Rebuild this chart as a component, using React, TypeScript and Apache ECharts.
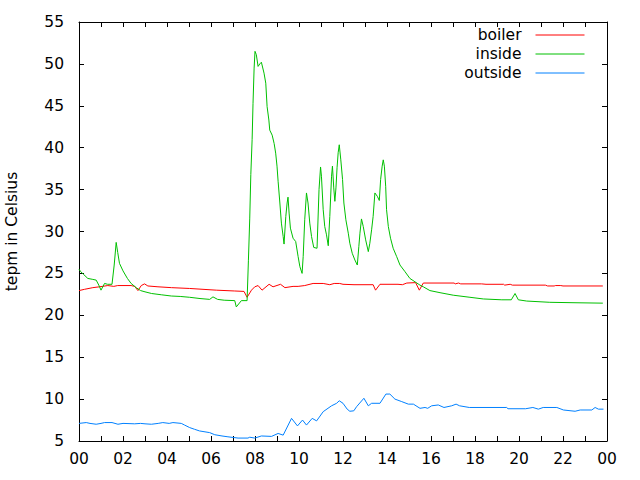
import { useEffect, useRef } from 'react';
import * as echarts from 'echarts';

const seriesNames = ['boiler', 'inside', 'outside'];
const xTickLabels = ['00', '02', '04', '06', '08', '10', '12', '14', '16', '18', '20', '22', '00'];

const boilerHours = [0, 0.25, 0.63, 0.93, 1.31, 1.58, 1.76, 2.37, 2.53, 2.68, 2.83, 2.98, 3.13, 3.59, 4.2, 5.03, 6.24, 7.08, 7.5, 7.64, 7.84, 7.99, 8.14, 8.32, 8.64, 8.82, 9.16, 9.36, 9.73, 9.96, 10.26, 10.64, 11.1, 11.4, 11.6, 11.85, 12.0, 12.5, 13.37, 13.48, 13.68, 14.5, 14.7, 14.9, 15.3, 15.47, 15.65, 17.05, 17.1, 17.25, 17.35, 18.3, 18.5, 19.3, 19.35, 19.6, 19.7, 21.2, 21.3, 21.6, 21.65, 21.9, 22.0, 23.81];
const boilerTemps = [22.95, 23.1, 23.3, 23.4, 23.55, 23.45, 23.55, 23.55, 23.45, 22.95, 23.55, 23.75, 23.5, 23.4, 23.3, 23.2, 23.0, 22.9, 22.85, 22.15, 23.0, 23.4, 23.55, 23.0, 23.7, 23.4, 23.7, 23.3, 23.45, 23.45, 23.55, 23.8, 23.8, 23.65, 23.8, 23.8, 23.7, 23.65, 23.65, 23.0, 23.7, 23.7, 23.65, 23.85, 23.9, 23.0, 23.85, 23.85, 23.75, 23.85, 23.75, 23.75, 23.7, 23.7, 23.6, 23.7, 23.6, 23.6, 23.5, 23.5, 23.55, 23.55, 23.5, 23.5];

const insideHours = [0, 0.08, 0.2, 0.4, 0.6, 0.78, 0.9, 1.0, 1.16, 1.3, 1.5, 1.6, 1.69, 1.76, 1.84, 2.0, 2.2, 2.37, 2.6, 2.8, 3.0, 3.3, 3.74, 4.2, 4.6, 5.03, 5.5, 5.94, 6.09, 6.3, 6.6, 7.08, 7.15, 7.38, 7.64, 7.7, 7.76, 7.81, 7.87, 7.91, 7.96, 8.0, 8.06, 8.14, 8.22, 8.29, 8.41, 8.49, 8.55, 8.63, 8.67, 8.78, 8.87, 8.94, 9.0, 9.05, 9.13, 9.2, 9.28, 9.32, 9.4, 9.46, 9.5, 9.55, 9.61, 9.73, 9.85, 9.96, 10.04, 10.14, 10.19, 10.26, 10.34, 10.41, 10.49, 10.57, 10.67, 10.82, 10.91, 10.98, 11.02, 11.1, 11.17, 11.25, 11.33, 11.4, 11.48, 11.52, 11.58, 11.63, 11.68, 11.73, 11.78, 11.83, 11.9, 11.98, 12.04, 12.13, 12.24, 12.31, 12.42, 12.54, 12.65, 12.72, 12.77, 12.84, 12.92, 13.03, 13.15, 13.22, 13.3, 13.37, 13.45, 13.56, 13.65, 13.71, 13.78, 13.83, 13.88, 13.94, 13.98, 14.06, 14.16, 14.28, 14.44, 14.59, 14.82, 15.04, 15.27, 15.5, 15.65, 15.95, 16.41, 17.01, 17.77, 18.38, 19.22, 19.65, 19.82, 19.97, 20.35, 21.4, 22.5, 23.81];
const insideTemps = [25.5, 25.2, 24.9, 24.4, 24.3, 24.2, 23.6, 23.0, 23.8, 23.7, 23.7, 26.0, 28.7, 27.5, 26.2, 25.3, 24.4, 23.8, 23.3, 22.95, 22.8, 22.6, 22.45, 22.3, 22.25, 22.15, 22.0, 21.9, 22.2, 21.9, 21.8, 21.75, 21.0, 21.75, 21.75, 26.5, 31.5, 36.8, 41.0, 45.3, 49.5, 51.5, 51.1, 49.7, 50.0, 50.2, 48.9, 47.7, 44.9, 43.3, 42.1, 41.5, 40.5, 39.35, 37.8, 36.0, 33.4, 31.0, 29.4, 28.5, 31.8, 33.4, 34.1, 32.2, 30.4, 29.2, 28.8, 27.0, 25.8, 25.0, 27.0, 31.4, 34.6, 33.4, 31.0, 29.4, 28.1, 28.0, 35.0, 37.7, 36.6, 32.6, 30.6, 29.6, 28.3, 31.8, 36.6, 37.8, 35.2, 33.6, 35.2, 37.6, 39.4, 40.35, 38.55, 36.2, 33.4, 31.4, 29.8, 28.6, 27.4, 26.6, 26.0, 28.2, 29.8, 31.5, 30.6, 29.0, 27.6, 28.6, 30.2, 31.8, 34.6, 34.2, 33.7, 36.2, 37.8, 38.55, 37.8, 35.4, 32.6, 30.6, 29.2, 28.0, 27.0, 26.0, 25.2, 24.4, 24.0, 23.6, 23.4, 22.95, 22.7, 22.4, 22.15, 21.95, 21.85, 21.85, 22.6, 21.85, 21.7, 21.55, 21.5, 21.45];

const outsideHours = [0, 0.33, 0.5, 0.78, 1.0, 1.16, 1.5, 1.77, 2.0, 2.53, 2.8, 3.0, 3.29, 3.6, 3.81, 4.1, 4.27, 4.65, 4.8, 5.03, 5.25, 5.48, 5.94, 6.17, 6.5, 6.77, 7.23, 7.68, 7.76, 7.99, 8.29, 8.75, 9.05, 9.28, 9.66, 9.93, 10.16, 10.34, 10.6, 10.8, 11.1, 11.48, 11.71, 11.83, 12.0, 12.19, 12.31, 12.49, 12.62, 12.95, 13.15, 13.3, 13.68, 13.95, 14.13, 14.36, 14.67, 14.97, 15.2, 15.5, 15.73, 15.85, 16.03, 16.33, 16.59, 16.94, 17.14, 17.3, 17.74, 19.44, 19.5, 20.3, 20.63, 20.88, 21.1, 21.72, 22.02, 22.55, 22.78, 23.31, 23.46, 23.61, 23.84];
const outsideTemps = [7.1, 7.2, 7.1, 7.0, 7.1, 7.2, 7.2, 7.0, 7.1, 7.05, 7.1, 7.05, 7.0, 7.1, 7.2, 7.1, 7.2, 7.1, 6.9, 6.6, 6.4, 6.2, 6.0, 5.75, 5.6, 5.5, 5.35, 5.35, 5.45, 5.35, 5.6, 5.55, 5.9, 5.7, 7.7, 6.8, 7.5, 6.9, 7.7, 7.4, 8.5, 9.2, 9.5, 9.8, 9.5, 8.8, 8.55, 8.6, 9.1, 10.1, 9.2, 9.5, 9.5, 10.6, 10.6, 10.0, 9.7, 9.4, 9.4, 8.9, 9.0, 8.9, 9.2, 9.3, 9.0, 9.2, 9.4, 9.2, 9.0, 9.0, 8.85, 8.85, 9.0, 8.8, 9.0, 9.0, 8.7, 8.55, 8.7, 8.7, 9.0, 8.8, 8.8];

const colors = ['#ff0000', '#00c000', '#0080ff'];

export default function App() {
  const ref = useRef<HTMLDivElement>(null);
  useEffect(() => {
    if (!ref.current) return;
    const chart = echarts.init(ref.current, null, { renderer: 'svg' });
    const font = 'DejaVu Sans';
    const fs = 15.5;
    const pair = (h: number[], v: number[]) => h.map((x, i) => [x, v[i]]);
    const axisLine = { show: true, onZero: false, lineStyle: { color: '#000', width: 1 } };
    const axisTick = { show: true, inside: true, length: 5, lineStyle: { color: '#000', width: 1 } };
    const xBase = { type: 'value', min: 0, max: 24, interval: 1, axisLine, axisTick, splitLine: { show: false } };
    const yBase = { type: 'value', min: 5, max: 55, interval: 5, axisLine, axisTick, splitLine: { show: false } };
    chart.setOption({
      animation: false,
      backgroundColor: '#fff',
      color: colors,
      grid: { left: 79, right: 33, top: 22, bottom: 39, containLabel: false, outerBoundsMode: 'none' },
      legend: {
        data: seriesNames,
        orient: 'vertical',
        align: 'right',
        right: 55,
        top: 27,
        padding: 0,
        itemWidth: 49,
        itemHeight: 16,
        itemGap: 3,
        itemStyle: { opacity: 0, borderWidth: 0 },
        lineStyle: { width: 1 },
        textStyle: { fontSize: fs, color: '#000', fontFamily: font, padding: [0, 9, 0, 0] },
      },
      xAxis: [
        {
          ...xBase,
          position: 'bottom',
          axisLabel: {
            margin: 10,
            fontSize: fs,
            color: '#000',
            fontFamily: font,
            formatter: (v: number) => (v % 2 === 0 ? xTickLabels[v / 2] : ''),
          },
        },
        { ...xBase, position: 'top', axisLabel: { show: false } },
      ],
      yAxis: [
        {
          ...yBase,
          position: 'left',
          name: 'tepm in Celsius',
          nameLocation: 'middle',
          nameGap: 59,
          nameRotate: 90,
          nameTextStyle: { fontSize: fs, color: '#000', fontFamily: font },
          axisLabel: { margin: 15, fontSize: fs, color: '#000', fontFamily: font },
        },
        { ...yBase, position: 'right', axisLabel: { show: false } },
      ],
      series: [
        { name: seriesNames[0], data: pair(boilerHours, boilerTemps) },
        { name: seriesNames[1], data: pair(insideHours, insideTemps) },
        { name: seriesNames[2], data: pair(outsideHours, outsideTemps) },
      ].map((s, i) => ({
        ...s,
        type: 'line',
        xAxisIndex: 0,
        yAxisIndex: 0,
        symbol: 'none',
        showSymbol: false,
        lineStyle: { color: colors[i], width: 1 },
        itemStyle: { color: colors[i] },
        emphasis: { disabled: true },
      })),
    });
    return () => chart.dispose();
  }, []);
  return <div ref={ref} style={{ position: 'absolute', left: 0, top: 0, width: 640, height: 480 }} />;
}
